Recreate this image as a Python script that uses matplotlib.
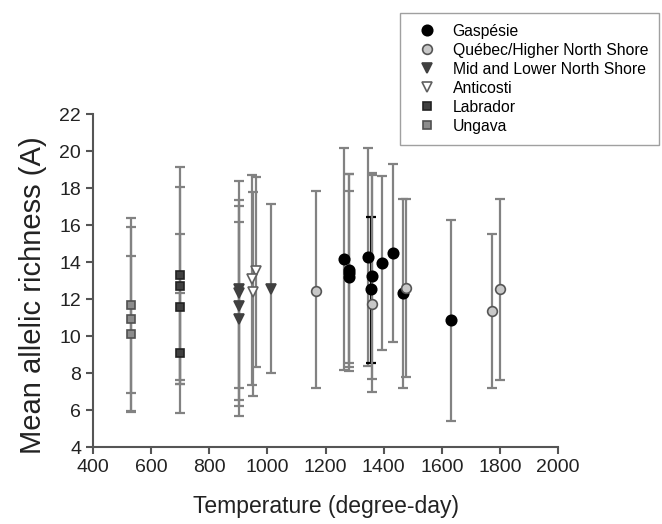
import matplotlib
matplotlib.use("Agg")
import matplotlib.pyplot as plt

plt.rcParams["font.family"] = ["Liberation Sans", "DejaVu Sans"]

# -------------------------
# Data: temperature (degree-day), mean A, range low / high
# -------------------------
gasp_x = [1265, 1282, 1282, 1282, 1346, 1361, 1356, 1393, 1433, 1466, 1632]
gasp_y = [14.16, 13.57, 13.4, 13.2, 14.29, 13.24, 12.54, 13.93, 14.47, 12.3, 10.86]
gasp_lo = [8.16, 8.34, 8.1, 8.56, 8.4, 7.66, 8.56, 9.24, 9.66, 7.2, 5.42]
gasp_hi = [20.15, 18.74, 18.78, 17.84, 20.15, 18.79, 16.45, 18.65, 19.3, 17.39, 16.27]
gasp_black_bar = [False, False, False, False, False, False, True, False, False, False, False]

queb_x = [1167, 1359, 1477, 1774, 1800]
queb_y = [12.45, 11.73, 12.61, 11.35, 12.54]
queb_lo = [7.17, 6.99, 7.77, 7.17, 7.62]
queb_hi = [17.86, 18.7, 17.39, 15.5, 17.4]

mid_x = [903, 903, 903, 903, 1011]
mid_y = [12.52, 12.31, 11.62, 10.9, 12.54]
mid_lo = [6.54, 5.7, 6.22, 7.2, 7.98]
mid_hi = [18.4, 17.35, 17.03, 16.15, 17.14]

anti_x = [961, 946, 949]
anti_y = [13.5, 13.08, 12.4]
anti_lo = [8.34, 7.35, 6.76]
anti_hi = [18.6, 18.7, 17.76]

lab_x = [699, 699, 699, 699]
lab_y = [13.3, 12.72, 11.58, 9.06]
lab_lo = [7.62, 7.39, 5.82, 7.39]
lab_hi = [19.15, 18.07, 15.5, 12.34]

ung_x = [531, 531, 531]
ung_y = [11.68, 10.92, 10.09]
ung_lo = [5.95, 5.88, 6.94]
ung_hi = [16.4, 15.9, 14.3]

GREY_BAR = "#828282"


def draw_group(ax, xs, ys, lo, hi, label, marker, face, edge, size, black=None):
    for i in range(len(xs)):
        col = "black" if (black and black[i]) else GREY_BAR
        ax.errorbar([xs[i]], [ys[i]], yerr=[[ys[i] - lo[i]], [hi[i] - ys[i]]],
                    fmt="none", ecolor=col, elinewidth=1.6, capsize=3.5,
                    capthick=1.6, zorder=2)
    ax.plot(xs, ys, linestyle="none", marker=marker, markersize=size,
            markerfacecolor=face, markeredgecolor=edge, markeredgewidth=1.2,
            label=label, zorder=3)


def main():
    fig = plt.figure(figsize=(6.62, 5.24), dpi=100)
    ax = fig.add_axes([0.1405, 0.1469, 0.7025, 0.6355])

    draw_group(ax, gasp_x, gasp_y, gasp_lo, gasp_hi, "Gaspésie",
               "o", "black", "black", 7.5, gasp_black_bar)
    draw_group(ax, queb_x, queb_y, queb_lo, queb_hi, "Québec/Higher North Shore",
               "o", "#c8c8c8", "#555555", 7.0)
    draw_group(ax, mid_x, mid_y, mid_lo, mid_hi, "Mid and Lower North Shore",
               "v", "#404040", "#404040", 7.0)
    draw_group(ax, anti_x, anti_y, anti_lo, anti_hi, "Anticosti",
               "v", "white", "#606060", 7.0)
    draw_group(ax, lab_x, lab_y, lab_lo, lab_hi, "Labrador",
               "s", "#404040", "#222222", 6.2)
    draw_group(ax, ung_x, ung_y, ung_lo, ung_hi, "Ungava",
               "s", "#8c8c8c", "#505050", 6.2)

    ax.set_xlim(400, 2000)
    ax.set_ylim(4, 22)
    ax.set_xticks(range(400, 2001, 200))
    ax.set_yticks(range(4, 23, 2))
    ax.spines["top"].set_visible(False)
    ax.spines["right"].set_visible(False)
    for s in ("left", "bottom"):
        ax.spines[s].set_color("#555555")
        ax.spines[s].set_linewidth(1.5)
    ax.tick_params(direction="out", length=5, width=1.5, color="#555555",
                   labelsize=14, labelcolor="#222222")

    ax.set_xlabel("Temperature (degree-day)", fontsize=16.5, color="#222222",
                  labelpad=14)
    fig.text(0.05, 0.437, "Mean allelic richness (A)", rotation=90,
             fontsize=21, color="#222222", ha="center", va="center")

    leg = ax.legend(loc="upper right", bbox_to_anchor=(659 / 662, 1 - 13 / 524),
                    bbox_transform=fig.transFigure, fontsize=11.3,
                    frameon=True, fancybox=False, edgecolor="#888888",
                    handlelength=2.1, handletextpad=0.55, labelspacing=0.25,
                    borderpad=0.7, borderaxespad=0)
    leg.get_frame().set_linewidth(1.0)

    fig.savefig("out.png", dpi=100)


if __name__ == "__main__":
    main()
